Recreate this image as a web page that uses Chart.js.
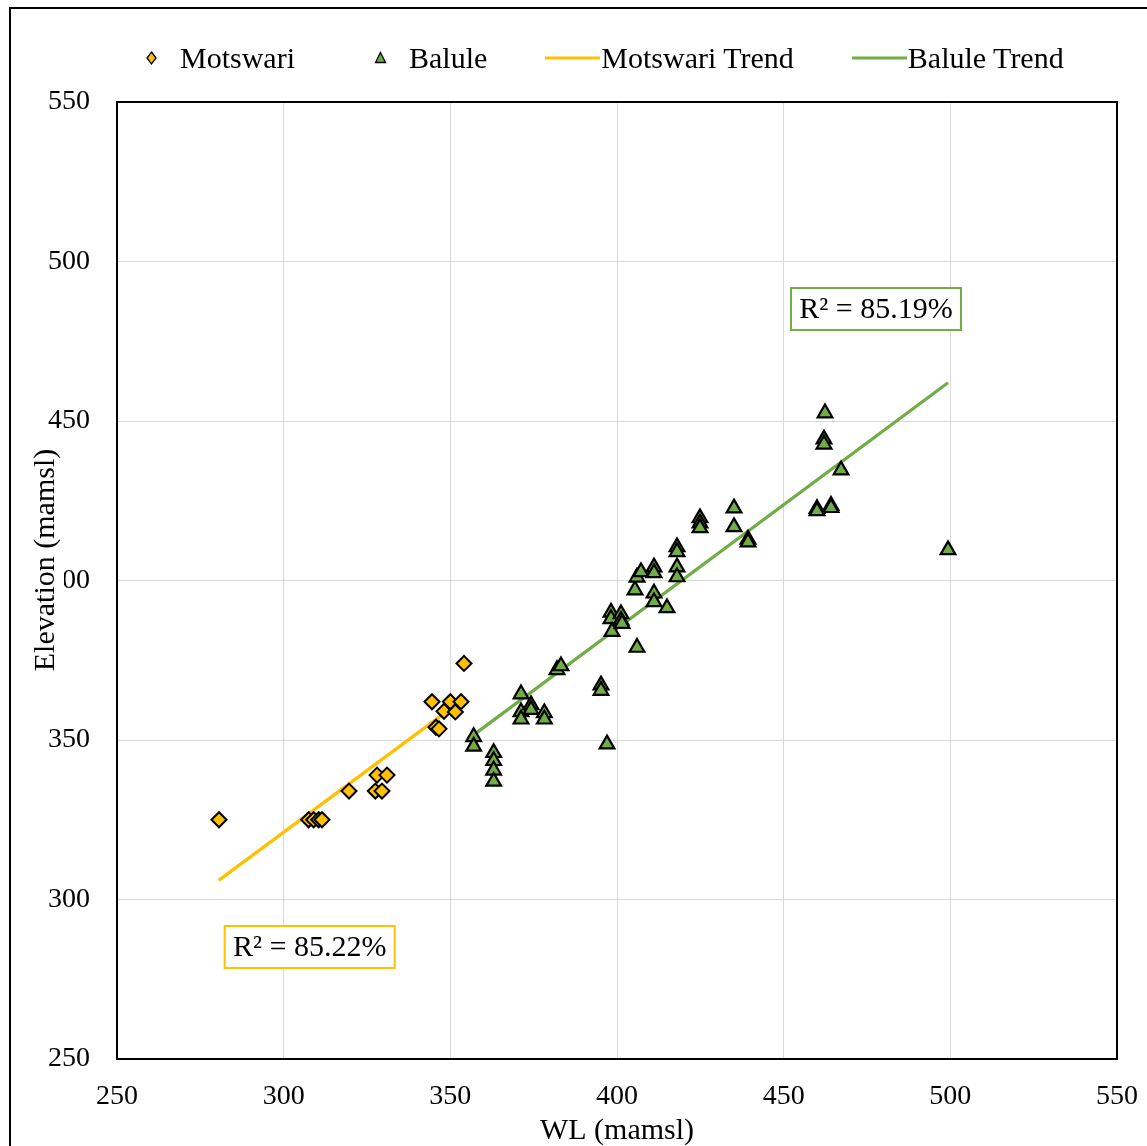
<!DOCTYPE html>
<html>
<head>
<meta charset="utf-8">
<script src="https://cdn.jsdelivr.net/npm/chart.js@4.4.0/dist/chart.umd.min.js"></script>
<style>
  html, body { margin: 0; padding: 0; background: #fff; overflow: hidden; }
  #wrap { position: relative; width: 1147px; height: 1146px; }
  #frame { position: absolute; left: 9px; top: 7px; width: 1200px; height: 1200px; border: 2px solid #000; }
  #legend { position: absolute; left: 124px; top: 40px; display: flex; gap: 58px;
            font-family: 'Liberation Serif', serif; font-size: 30px; line-height: 36px; color: #000; }
  .item { display: flex; align-items: center; white-space: nowrap; }
  .item svg { width: 55px; height: 36px; margin-right: 1px; }
  canvas { position: absolute; left: 0; top: 0; }
</style>
</head>
<body>
<div id="wrap">
  <div id="frame"></div>
  <canvas id="chart" width="1147" height="1146"></canvas>
  <div id="legend"></div>
</div>
<script>
// values
const motswariWL   = [280.6, 307.5, 309, 310.5, 311.5, 319.6, 327.5, 329.5, 328, 331,
                      344.5, 345.7, 346.6, 348.1, 350, 351.5, 353.2, 354.1];
const motswariElev = [325, 325, 325, 325, 325, 334, 334, 334, 339, 339,
                      362, 354, 353.5, 359, 362, 358.8, 362, 374];

const baluleWL   = [357, 357, 363, 363, 363, 363, 371.2, 371.2, 371.2, 374.2, 374.2,
                    378.2, 378.2, 382, 383.2, 395.2, 395.2, 397, 398.2, 398.2, 398.5,
                    401.2, 401.2, 401.5, 405.4, 406, 407.2, 406, 411.1, 411.1, 411.1, 411.1,
                    415, 418, 418, 418, 418, 424.9, 424.9, 424.9, 435.1, 435.1, 439.3, 439.3,
                    460, 460, 462.4, 462.1, 462.1, 464.2, 464.2, 467.2, 499.3];
const baluleElev = [351, 348, 346, 343.5, 340.5, 337, 364.4, 358.8, 356.5, 361, 359.5,
                    358.5, 356.5, 372, 373.2, 367.2, 365.5, 348.7, 390, 388, 384,
                    389.5, 387.5, 386.5, 397, 401, 402.7, 379, 404.2, 402.4, 396, 393.3,
                    391.4, 410.5, 409, 404.2, 401.1, 419.6, 418, 416.5, 422.7, 416.8, 412.9, 412,
                    422.5, 421.8, 452.5, 444.3, 442.7, 423.5, 422.8, 434.6, 409.6];

// trend line end points
const motswariTrendWL   = [280.5, 353.5];
const motswariTrendElev = [306, 362.5];
const baluleTrendWL     = [357, 499.3];
const baluleTrendElev   = [351.6, 462];

const xTicks = [250, 300, 350, 400, 450, 500, 550];
const yTicks = [250, 300, 350, 400, 450, 500, 550];

const YELLOW = '#ffc000';
const GREEN = '#70ad47';
const FONT = "'Liberation Serif', 'Times New Roman', serif";

function pts(xs, ys) {
  return xs.map((x, i) => ({x: x, y: ys[i]}));
}

// plot frame, y axis title (white box covers the labels like in the original), R² boxes
const extras = {
  id: 'extras',
  afterDraw(chart, args, opts) {
    const ctx = chart.ctx;
    const a = chart.chartArea;
    ctx.save();
    ctx.strokeStyle = '#000';
    ctx.lineWidth = 2;
    ctx.strokeRect(a.left, a.top, a.right - a.left, a.bottom - a.top);

    // y title
    ctx.font = '30px ' + FONT;
    const t = 'Elevation (mamsl)';
    const tw = ctx.measureText(t).width;
    const cy = 560;
    ctx.fillStyle = '#fff';
    ctx.fillRect(28, cy - tw / 2 - 4, 36, tw + 8);
    ctx.translate(46, cy);
    ctx.rotate(-Math.PI / 2);
    ctx.fillStyle = '#000';
    ctx.textAlign = 'center';
    ctx.textBaseline = 'middle';
    ctx.fillText(t, 0, 0);
    ctx.restore();

    // R² labels
    const xs = chart.scales.x, ys = chart.scales.y;
    opts.labels.forEach(l => {
      const px = xs.getPixelForValue(l.x);
      const py = ys.getPixelForValue(l.y);
      ctx.save();
      ctx.fillStyle = '#fff';
      ctx.fillRect(px - 85, py - 21, 170, 42);
      ctx.strokeStyle = l.color;
      ctx.lineWidth = 2;
      ctx.strokeRect(px - 85, py - 21, 170, 42);
      ctx.fillStyle = '#000';
      ctx.font = '30px ' + FONT;
      ctx.textAlign = 'center';
      ctx.textBaseline = 'middle';
      ctx.fillText(l.text, px, py + 1);
      ctx.restore();
    });
  }
};

const chart = new Chart(document.getElementById('chart'), {
  type: 'scatter',
  data: {
    datasets: [
      {
        label: 'Motswari',
        data: pts(motswariWL, motswariElev),
        pointStyle: 'rectRot',
        pointRadius: 7.5,
        pointBackgroundColor: YELLOW,
        pointBorderColor: '#000',
        pointBorderWidth: 2,
        order: 1
      },
      {
        label: 'Balule',
        data: pts(baluleWL, baluleElev),
        pointStyle: 'triangle',
        pointRadius: 8.5,
        pointBackgroundColor: GREEN,
        pointBorderColor: '#000',
        pointBorderWidth: 2.2,
        order: 0
      },
      {
        label: 'Motswari Trend',
        data: pts(motswariTrendWL, motswariTrendElev),
        showLine: true,
        borderColor: YELLOW,
        borderWidth: 3.2,
        pointRadius: 0,
        order: 2
      },
      {
        label: 'Balule Trend',
        data: pts(baluleTrendWL, baluleTrendElev),
        showLine: true,
        borderColor: GREEN,
        borderWidth: 3.2,
        pointRadius: 0,
        order: 2
      }
    ]
  },
  options: {
    responsive: false,
    animation: false,
    layout: { padding: { top: 102, right: 30, left: 0, bottom: 0 } },
    scales: {
      x: {
        type: 'linear',
        min: 250,
        max: 550,
        afterBuildTicks: s => { s.ticks = xTicks.map(v => ({value: v})); },
        // fixed height, and no extra room for the last label (it may hang over)
        afterFit: s => { s.height = 87; s.paddingRight = 0; s.paddingLeft = 0; },
        ticks: { font: { family: FONT, size: 28 }, color: '#000', padding: 21 },
        grid: { color: '#d9d9d9', lineWidth: 1, drawTicks: false },
        border: { display: false },
        title: { display: true, text: 'WL (mamsl)', color: '#000',
                 font: { family: FONT, size: 30 }, padding: { top: 0, bottom: -3 } }
      },
      y: {
        type: 'linear',
        min: 250,
        max: 550,
        afterBuildTicks: s => { s.ticks = yTicks.map(v => ({value: v})); },
        afterFit: s => { s.width = 117; },
        ticks: { font: { family: FONT, size: 28 }, color: '#000', padding: 27 },
        grid: { color: '#d9d9d9', lineWidth: 1, drawTicks: false },
        border: { display: false }
      }
    },
    plugins: {
      legend: { display: false },
      tooltip: { enabled: false },
      extras: {
        labels: [
          { text: 'R\u00b2 = 85.19%', x: 477.7, y: 485.1, color: GREEN },
          { text: 'R\u00b2 = 85.22%', x: 307.8, y: 285.1, color: YELLOW }
        ]
      }
    }
  },
  plugins: [extras]
});

// html legend from the datasets
const legend = document.getElementById('legend');
chart.data.datasets.forEach(ds => {
  let svg;
  if (ds.pointStyle === 'rectRot') {
    svg = '<polygon points="27.5,12 32,18 27.5,24 23,18" fill="' + ds.pointBackgroundColor + '" stroke="#000" stroke-width="1.3"/>';
  } else if (ds.pointStyle === 'triangle') {
    svg = '<polygon points="27.5,12.5 32.5,22.5 22.5,22.5" fill="' + ds.pointBackgroundColor + '" stroke="#000" stroke-width="1.3"/>';
  } else {
    svg = '<line x1="0" y1="18" x2="55" y2="18" stroke="' + ds.borderColor + '" stroke-width="3"/>';
  }
  const item = document.createElement('div');
  item.className = 'item';
  item.innerHTML = '<svg viewBox="0 0 55 36">' + svg + '</svg><span>' + ds.label + '</span>';
  legend.appendChild(item);
});
</script>
</body>
</html>
